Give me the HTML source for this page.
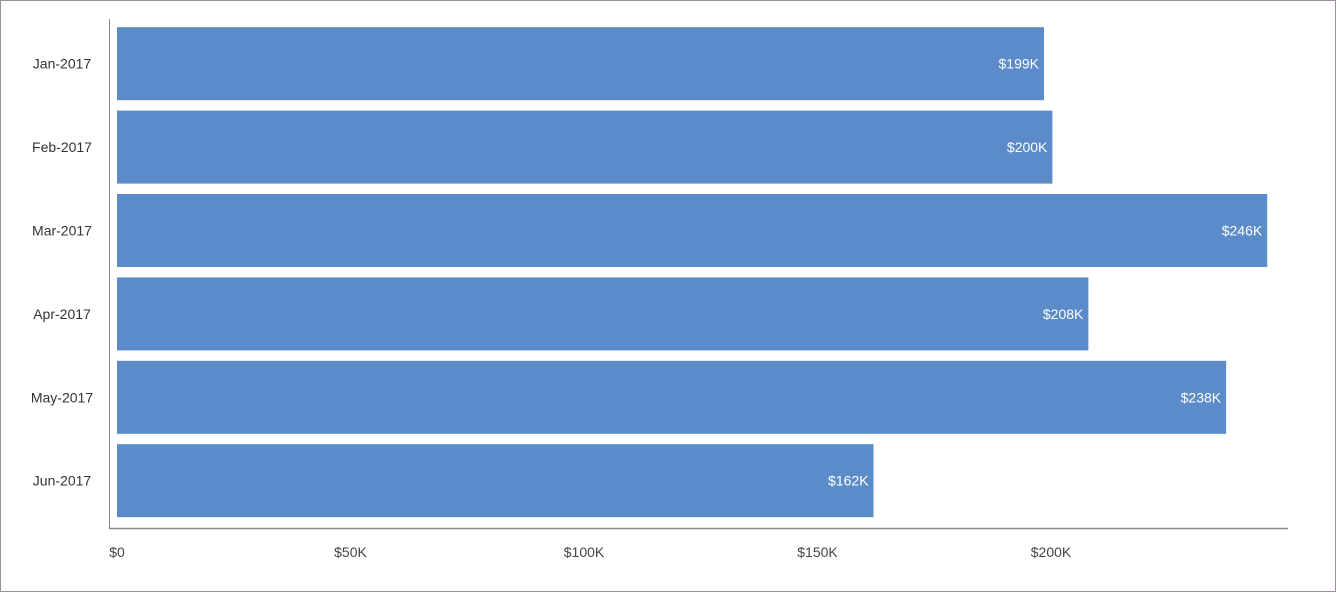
<!DOCTYPE html>
<html><head><meta charset="utf-8"><style>
html,body{margin:0;padding:0;background:#fff}
#wrap{position:relative;width:1336px;height:592px;box-sizing:border-box;border:1px solid #9e8fa3;background:#fff}
svg{position:absolute;left:0;top:0}
text{font-family:"Liberation Sans",sans-serif;font-size:14px}
</style></head><body>
<div id="wrap">
<svg id="chart" width="1336" height="592"></svg>
</div>
<script>
const categories=["Jan-2017","Feb-2017","Mar-2017","Apr-2017","May-2017","Jun-2017"];
const values=[198.5,200.3,246.3,208,237.5,162];
const valueLabels=["$199K","$200K","$246K","$208K","$238K","$162K"];
const tickValues=[0,50,100,150,200];
const tickLabels=["$0","$50K","$100K","$150K","$200K"];
const NS="http://www.w3.org/2000/svg";
const svgEl=document.getElementById('chart');
const x0=116,pxPerK=4.67,plotTop=21,band=83.4,barH=73;
const xs=v=>x0+v*pxPerK;
const ys=i=>plotTop+i*band;
function mk(t,a){const e=document.createElementNS(NS,t);for(const k in a)e.setAttribute(k,a[k]);svgEl.appendChild(e);return e;}
categories.forEach((c,i)=>{
  const y=ys(i)+(band-barH)/2;
  const r=mk('rect',{x:x0,y:y,width:xs(values[i])-x0,height:barH,fill:'#5b8cc9'});
  
  
  const vl=mk('text',{x:xs(values[i])-5,y:y+barH/2+5,fill:'#fff','text-anchor':'end'});
  vl.textContent=valueLabels[i];
  
  
  const cl=mk('text',{x:61,y:y+barH/2+5,fill:'#333','text-anchor':'middle'});
  cl.textContent=c;
  
  
});
tickValues.forEach((v,i)=>{
  const t=mk('text',{x:xs(v),y:556,fill:'#444','text-anchor':'middle'});
  t.textContent=tickLabels[i];
  
  
});
const ya=mk('line',{x1:108.5,y1:18,x2:108.5,y2:528,stroke:'#888','stroke-width':1});


const xa=mk('line',{x1:108,y1:527.5,x2:1287,y2:527.5,stroke:'#888','stroke-width':1.5});


</script>
</body></html>
